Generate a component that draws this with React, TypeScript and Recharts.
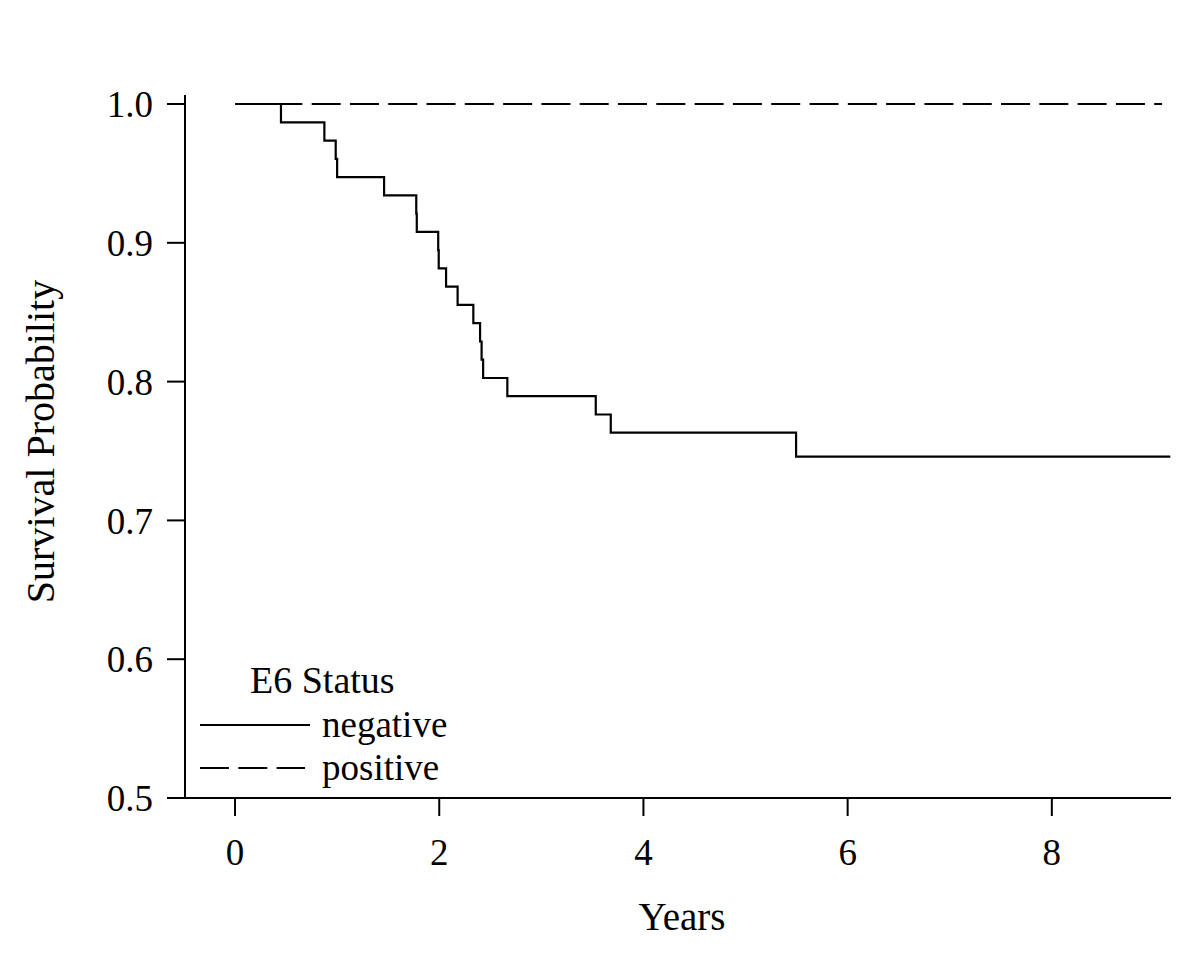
import React from 'react';
import { LineChart, Line, XAxis, YAxis } from 'recharts';

// Kaplan-Meier estimates (years, survival)
const negativeTimes = [0, 0.45, 0.875, 0.986, 1.0, 1.46, 1.775, 1.78, 1.99, 1.995, 2.067, 2.18, 2.334, 2.4, 2.415, 2.43, 2.667, 3.533, 3.68, 5.495, 9.16];
const negativeSurv = [1, 0.9868, 0.9737, 0.9605, 0.9474, 0.9342, 0.9211, 0.9079, 0.8947, 0.8816, 0.8684, 0.8553, 0.8421, 0.8289, 0.8158, 0.8026, 0.7895, 0.7763, 0.7632, 0.746, 0.746];
const positiveTimes = [0, 9.08];
const positiveSurv = [1, 1];

const xTicks = [0, 2, 4, 6, 8];
const yTicks = [0.5, 0.6, 0.7, 0.8, 0.9, 1.0];

const negativeData = negativeTimes.map((t, i) => ({ t, s: negativeSurv[i] }));
const positiveData = positiveTimes.map((t, i) => ({ t, s: positiveSurv[i] }));

const FONT = '"Liberation Serif", "Times New Roman", serif';
const FS = 37;
const DASH = '29 9.3';

const series = [
    { name: 'negative', dash: undefined as string | undefined },
    { name: 'positive', dash: DASH },
];

function YTitle({ viewBox }: any) {
    const cy = viewBox.y + viewBox.height / 2 - 5;
    return (
        <text x={54} y={cy} transform={`rotate(-90, 54, ${cy})`} textAnchor="middle"
            fontFamily={FONT} fontSize={40} fill="#000">
            Survival Probability
        </text>
    );
}

function XTitle({ viewBox }: any) {
    const cx = viewBox.x + viewBox.width / 2 + 4;
    return (
        <text x={cx} y={930} textAnchor="middle" fontFamily={FONT} fontSize={39} fill="#000">
            Years
        </text>
    );
}

export default function App() {
    return (
        <div style={{ position: 'absolute', left: 0, top: 0, width: 1200, height: 960, background: '#fff' }}>
            <LineChart width={1200} height={960} margin={{ top: 95, right: 29, bottom: 0, left: 0 }}>
                <XAxis
                    dataKey="t"
                    type="number"
                    domain={[-0.49, 9.167]}
                    ticks={xTicks}
                    allowDataOverflow
                    height={162}
                    tickSize={18}
                    tickMargin={23}
                    stroke="#000"
                    strokeWidth={2}
                    tick={{ fill: '#000', fontFamily: FONT, fontSize: FS }}
                    label={<XTitle />}
                />
                <YAxis
                    dataKey="s"
                    type="number"
                    domain={[0.5, 1.0065]}
                    ticks={yTicks}
                    allowDataOverflow
                    width={185}
                    tickSize={18}
                    tickMargin={14}
                    stroke="#000"
                    strokeWidth={2}
                    tickFormatter={(v: number) => v.toFixed(1)}
                    tick={{ fill: '#000', fontFamily: FONT, fontSize: FS }}
                    label={<YTitle />}
                />
                <Line data={positiveData} dataKey="s" type="stepAfter" stroke="#000" strokeWidth={2.2}
                    strokeDasharray={DASH} dot={false} isAnimationActive={false} />
                <Line data={negativeData} dataKey="s" type="stepAfter" stroke="#000" strokeWidth={2.2}
                    dot={false} isAnimationActive={false} />
            </LineChart>

            {/* Legend */}
            <svg width={1200} height={960} style={{ position: 'absolute', left: 0, top: 0, pointerEvents: 'none' }}>
                <text x={250} y={693} fontFamily={FONT} fontSize={38} fill="#000">E6 Status</text>
                {series.map((s, i) => (
                    <g key={s.name}>
                        <line x1={200} x2={i === 0 ? 310 : 305} y1={725 + i * 43} y2={725 + i * 43}
                            stroke="#000" strokeWidth={2.2} strokeDasharray={s.dash} />
                        <text x={322} y={737 + i * 43} fontFamily={FONT} fontSize={FS} fill="#000">{s.name}</text>
                    </g>
                ))}
            </svg>
        </div>
    );
}
